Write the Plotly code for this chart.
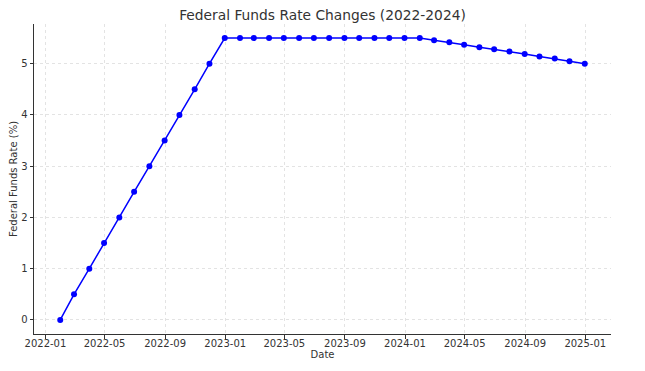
import pandas as pd
import plotly.graph_objects as go

dates = pd.date_range("2022-01-01", "2024-12-31", freq="ME")
rates = [0.0, 0.5, 1.0, 1.5, 2.0, 2.5, 3.0, 3.5, 4.0, 4.5, 5.0, 5.5,
         5.5, 5.5, 5.5, 5.5, 5.5, 5.5, 5.5, 5.5, 5.5, 5.5, 5.5, 5.5,
         5.5, 5.46, 5.42, 5.37, 5.32, 5.28, 5.24, 5.19, 5.14, 5.10, 5.05, 5.0]
x_ticks = pd.date_range("2022-01-01", "2025-01-01", freq="4MS")
x_ticklabels = [d.strftime("%Y-%m") for d in x_ticks]
y_ticks = [0, 1, 2, 3, 4, 5]

span = dates[-1] - dates[0]
pad = span * 0.05
y_pad = (max(rates) - min(rates)) * 0.05

fig = go.Figure(go.Scatter(
    x=dates, y=rates, mode="lines+markers",
    line=dict(color="#0000ff", width=1.5),
    marker=dict(color="#0000ff", size=6),
))

axis_common = dict(
    showgrid=True, gridcolor="#e3e3e3", griddash="dot", gridwidth=0.8,
    ticks="outside", ticklen=3.5, tickcolor="#333", tickwidth=0.8,
    showline=True, linecolor="#333", linewidth=1,
    zeroline=False, tickfont=dict(size=10, color="#333"),
    automargin=False,
)

# page body has an 8px margin; compensate in figure size/margins
W, H = 637, 363
fig.update_layout(
    width=W, height=H,
    margin=dict(l=26, r=34, t=16, b=37),
    paper_bgcolor="white", plot_bgcolor="white",
    font=dict(family="DejaVu Sans", color="#333"),
    title=dict(text="Federal Funds Rate Changes (2022-2024)", x=(322.5 - 8) / W, xanchor="center",
               y=1 - 7.5 / H, yanchor="middle", font=dict(size=13.8, color="#333")),
    showlegend=False,
    xaxis=dict(range=[dates[0] - pad, dates[-1] + pad], tickvals=x_ticks, ticktext=x_ticklabels,
               ticklabelstandoff=-4,
               title=dict(text="Date", font=dict(size=10), standoff=2), **axis_common),
    yaxis=dict(range=[min(rates) - y_pad, max(rates) + y_pad], tickvals=y_ticks,
               title=dict(text="Federal Funds Rate (%)", font=dict(size=10), standoff=3), **axis_common),
)

fig.write_html("out.html")
